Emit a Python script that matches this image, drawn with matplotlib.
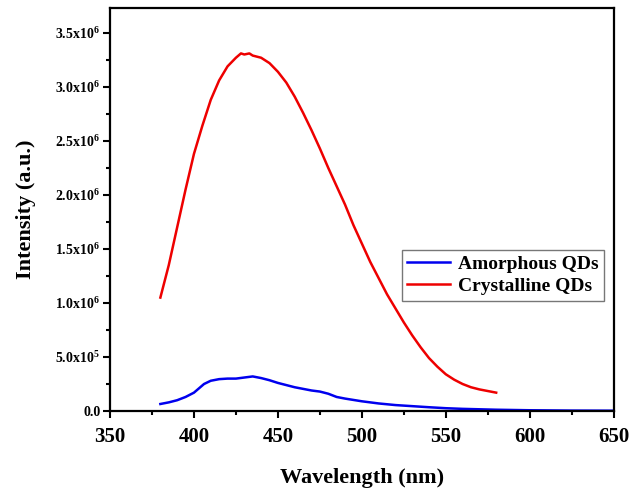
import matplotlib
matplotlib.use("Agg")
import matplotlib.pyplot as plt
from matplotlib.ticker import MultipleLocator, FuncFormatter

plt.rcParams['font.family'] = ['Liberation Serif', 'DejaVu Serif']
plt.rcParams['font.weight'] = 'bold'
plt.rcParams['mathtext.fontset'] = 'custom'
plt.rcParams['mathtext.rm'] = 'Liberation Serif:bold'
plt.rcParams['mathtext.it'] = 'Liberation Serif:bold'
plt.rcParams['mathtext.bf'] = 'Liberation Serif:bold'

# values
cryst_wl = [380, 385, 390, 395, 400, 405, 410, 415, 420, 425, 428, 430, 433, 435,
            440, 445, 450, 455, 460, 465, 470, 475, 480, 485, 490, 495, 500, 505,
            510, 515, 520, 525, 530, 535, 540, 545, 550, 555, 560, 565, 570, 575, 580]
cryst_int = [1.05e6, 1.35e6, 1.70e6, 2.05e6, 2.38e6, 2.64e6, 2.88e6, 3.06e6, 3.19e6,
             3.27e6, 3.31e6, 3.30e6, 3.31e6, 3.29e6, 3.27e6, 3.22e6, 3.14e6, 3.04e6,
             2.91e6, 2.76e6, 2.60e6, 2.43e6, 2.25e6, 2.08e6, 1.91e6, 1.72e6, 1.55e6,
             1.38e6, 1.23e6, 1.08e6, 0.95e6, 0.82e6, 0.70e6, 0.59e6, 0.49e6, 0.41e6,
             0.34e6, 0.29e6, 0.25e6, 0.22e6, 0.20e6, 0.185e6, 0.17e6]

amor_wl = [380, 385, 390, 395, 400, 403, 406, 410, 415, 420, 425, 430, 435, 440,
           445, 450, 455, 460, 465, 470, 475, 480, 485, 490, 500, 510, 520, 530,
           540, 550, 560, 580, 600, 625, 650]
amor_int = [0.065e6, 0.08e6, 0.10e6, 0.13e6, 0.17e6, 0.21e6, 0.25e6, 0.28e6,
            0.295e6, 0.30e6, 0.30e6, 0.31e6, 0.32e6, 0.305e6, 0.285e6, 0.26e6,
            0.24e6, 0.22e6, 0.205e6, 0.19e6, 0.18e6, 0.16e6, 0.13e6, 0.115e6,
            0.09e6, 0.07e6, 0.055e6, 0.045e6, 0.035e6, 0.026e6, 0.02e6, 0.012e6,
            0.007e6, 0.004e6, 0.003e6]

y_ticks = [0, 0.5e6, 1.0e6, 1.5e6, 2.0e6, 2.5e6, 3.0e6, 3.5e6]


def sci_label(v, pos):
    if v == 0:
        return '0.0'
    exp = len(str(int(v))) - 1
    return f'{v / 10 ** exp:.1f}x10$^{{{exp}}}$'


fig = plt.figure(figsize=(6.34, 4.93), dpi=100)
ax = fig.add_axes([0.1735, 0.1663, 0.7945, 0.8174])

ax.plot(amor_wl, amor_int, color='#0000ee', lw=1.8, label='Amorphous QDs')
ax.plot(cryst_wl, cryst_int, color='#ee0000', lw=1.8, label='Crystalline QDs')

ax.set_xlim(350, 650)
ax.set_ylim(0, 3.73e6)
ax.xaxis.set_major_locator(MultipleLocator(50))
ax.xaxis.set_minor_locator(MultipleLocator(25))
ax.set_yticks(y_ticks)
ax.yaxis.set_minor_locator(MultipleLocator(0.25e6))
ax.yaxis.set_major_formatter(FuncFormatter(sci_label))

ax.tick_params(which='both', direction='out', width=1.5, top=False, right=False)
ax.tick_params(which='major', length=5)
ax.tick_params(which='minor', length=3)
ax.tick_params(axis='x', labelsize=15, pad=6.5)
ax.tick_params(axis='y', labelsize=10, pad=2)
for s in ax.spines.values():
    s.set_linewidth(1.6)

ax.set_xlabel('Wavelength (nm)', fontsize=16, fontweight='bold', labelpad=15)
ax.set_ylabel('Intensity (a.u.)', fontsize=16, fontweight='bold', labelpad=14)

leg = ax.legend(loc='upper left', bbox_to_anchor=(0.579, 0.40), fontsize=14,
                frameon=True, fancybox=False, edgecolor='#555555',
                handlelength=2.2, handletextpad=0.4, borderpad=0.3,
                labelspacing=0.2, borderaxespad=0)
leg.get_frame().set_linewidth(1.0)

fig.savefig('out.png', dpi=100)
